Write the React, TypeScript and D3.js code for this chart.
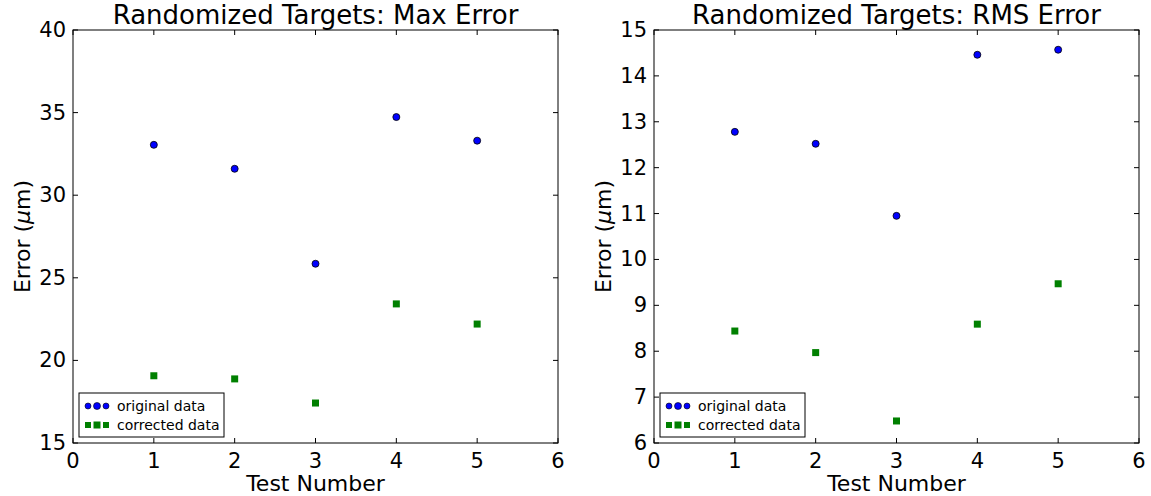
import React from 'react'
import * as d3 from 'd3'

// test numbers on the x axis
const tests = [1, 2, 3, 4, 5]

// max error panel
const maxOriginal = [33.05, 31.6, 25.85, 34.73, 33.3]
const maxCorrected = [19.07, 18.88, 17.42, 23.42, 22.2]

// rms error panel
const rmsOriginal = [12.78, 12.52, 10.95, 14.46, 14.57]
const rmsCorrected = [8.44, 7.97, 6.48, 8.59, 9.47]

const xTicks = [0, 1, 2, 3, 4, 5, 6]
const maxTicks = [15, 20, 25, 30, 35, 40]
const rmsTicks = [6, 7, 8, 9, 10, 11, 12, 13, 14, 15]

const FONT = 'DejaVu Sans, sans-serif'
const BLUE = '#0000ff'
const GREEN = '#008000'

type PanelProps = {
    left: number
    title: string
    yDomain: [number, number]
    yTicks: number[]
    original: number[]
    corrected: number[]
}

function Panel(props: PanelProps) {
    const top = 30
    const bottom = 443
    const right = props.left + 485

    const x = d3.scaleLinear().domain([0, 6]).range([props.left, right])
    const y = d3.scaleLinear().domain(props.yDomain).range([bottom, top])
    const tick = 5

    const lx = props.left + 6
    const ly = 393

    return (
        <g fontFamily={FONT}>
            <text x={(props.left + right) / 2} y={24} fontSize={26} textAnchor='middle'>{props.title}</text>
            <rect x={props.left} y={top} width={right - props.left} height={bottom - top} fill='white' stroke='#000' strokeWidth={1} />

            {xTicks.map(t => (
                <g key={'x' + t}>
                    <line x1={x(t)} x2={x(t)} y1={bottom} y2={bottom - tick} stroke='#000' />
                    <line x1={x(t)} x2={x(t)} y1={top} y2={top + tick} stroke='#000' />
                    <text x={x(t)} y={bottom + 25} fontSize={21} textAnchor='middle'>{t}</text>
                </g>
            ))}
            {props.yTicks.map(t => (
                <g key={'y' + t}>
                    <line x1={props.left} x2={props.left + tick} y1={y(t)} y2={y(t)} stroke='#000' />
                    <line x1={right} x2={right - tick} y1={y(t)} y2={y(t)} stroke='#000' />
                    <text x={props.left - 7} y={y(t) + 7} fontSize={21} textAnchor='end'>{t}</text>
                </g>
            ))}

            <text x={(props.left + right) / 2} y={491} fontSize={22} textAnchor='middle'>Test Number</text>
            <text transform={`translate(${props.left - 43},${(top + bottom) / 2}) rotate(-90)`} fontSize={22} textAnchor='middle'>
                Error (<tspan fontStyle='italic'>μ</tspan>m)
            </text>

            {tests.map((t, i) => (
                <circle key={'o' + t} cx={x(t)} cy={y(props.original[i])} r={3.5} fill={BLUE} stroke='#000' strokeWidth={0.8} />
            ))}
            {tests.map((t, i) => (
                <rect key={'c' + t} x={x(t) - 3.5} y={y(props.corrected[i]) - 3.5} width={7} height={7} fill={GREEN} />
            ))}

            <rect x={lx} y={ly} width={145} height={44} fill='white' stroke='#000' strokeWidth={1} />
            {[[9, 3], [18, 3.5], [27, 3]].map(([dx, r]) => (
                <circle key={'lo' + dx} cx={lx + dx} cy={ly + 13} r={r} fill={BLUE} stroke='#000' strokeWidth={0.6} />
            ))}
            {[[9, 3], [18, 3.5], [27, 3]].map(([dx, r]) => (
                <rect key={'lc' + dx} x={lx + dx - r} y={ly + 32 - r} width={r * 2} height={r * 2} fill={GREEN} />
            ))}
            <text x={lx + 38} y={ly + 18} fontSize={14}>original data</text>
            <text x={lx + 38} y={ly + 37} fontSize={14}>corrected data</text>
        </g>
    )
}

export default function App() {
    return (
        <svg width={1151} height={496} style={{ position: 'absolute', left: 0, top: 0, background: 'white' }}>
            <Panel left={73} title='Randomized Targets: Max Error' yDomain={[15, 40]} yTicks={maxTicks}
                original={maxOriginal} corrected={maxCorrected} />
            <Panel left={654} title='Randomized Targets: RMS Error' yDomain={[6, 15]} yTicks={rmsTicks}
                original={rmsOriginal} corrected={rmsCorrected} />
        </svg>
    )
}
